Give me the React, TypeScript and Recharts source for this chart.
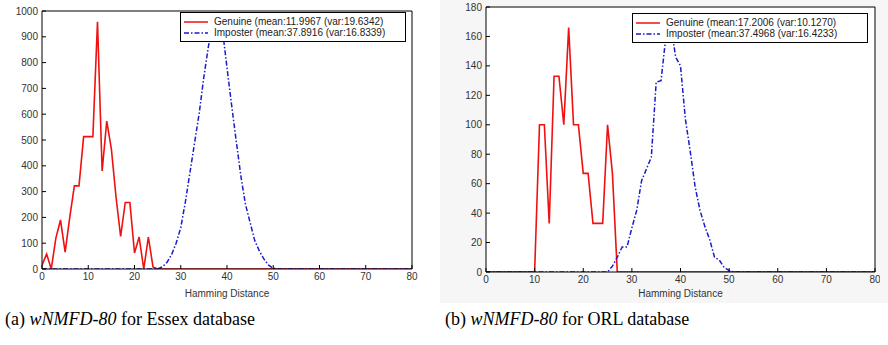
import { CartesianGrid, Legend, Line, LineChart, XAxis, YAxis } from "recharts";

// Hamming distance histograms
const essexGenuineX = [0, 1, 2, 3, 4, 5, 6, 7, 8, 9, 10, 11, 12, 13, 14, 15, 16, 17, 18, 19, 20, 21, 22, 23, 24, 25, 80];
const essexGenuineY = [15, 58, 0, 120, 190, 65, 200, 322, 322, 513, 513, 513, 958, 380, 573, 465, 280, 126, 258, 258, 62, 124, 0, 124, 8, 0, 0];

const essexImposterX = [0, 25, 26, 27, 28, 29, 30, 31, 32, 33, 34, 35, 36, 37, 38, 39, 40, 41, 42, 43, 44, 45, 46, 47, 48, 49, 50, 51, 80];
const essexImposterY = [0, 0, 8, 25, 55, 100, 160, 260, 375, 490, 605, 745, 865, 950, 990, 930, 780, 635, 495, 360, 250, 180, 110, 70, 38, 15, 3, 0, 0];

const orlGenuineX = [0, 10, 11, 12, 13, 14, 15, 16, 17, 18, 19, 20, 21, 22, 23, 24, 25, 26, 27, 80];
const orlGenuineY = [0, 0, 100, 100, 33, 133, 133, 100, 166, 100, 100, 67, 67, 33, 33, 33, 100, 67, 0, 0];

const orlImposterX = [0, 25, 26, 27, 28, 29, 30, 31, 32, 33, 34, 35, 36, 37, 38, 39, 40, 41, 42, 43, 44, 45, 46, 47, 48, 49, 50, 51, 80];
const orlImposterY = [0, 0, 4, 10, 17, 17, 30, 42, 62, 70, 78, 129, 130, 160, 168, 146, 140, 104, 82, 58, 42, 31, 22, 10, 8, 3, 1, 0, 0];

const xTicks = [0, 10, 20, 30, 40, 50, 60, 70, 80];
const essexYTicks = [0, 100, 200, 300, 400, 500, 600, 700, 800, 900, 1000];
const orlYTicks = [0, 20, 40, 60, 80, 100, 120, 140, 160, 180];

const essexLabels = ["Genuine (mean:11.9967 (var:19.6342)", "Imposter (mean:37.8916 (var:16.8339)"];
const orlLabels = ["Genuine (mean:17.2006 (var:10.1270)", "Imposter (mean:37.4968 (var:16.4233)"];

const RED = "#f01010";
const BLUE = "#1a1acc";
const DASH_DOT = "5 2 1.5 2";
const FONT = "Liberation Sans, Arial, sans-serif";
const TICK = { fontSize: 10, fill: "#333", fontFamily: FONT };

const toPoints = (xs: number[], ys: number[]) => xs.map((d, i) => ({ d, n: ys[i] }));

interface LegendBox {
  left: number;
  top: number;
  width: number;
}

function BoxLegend({ payload }: { payload?: Array<{ value: string; color: string; payload?: { strokeDasharray?: string } }> }) {
  if (!payload) return null;
  return (
    <div
      style={{
        border: "1px solid #000",
        background: "#fff",
        padding: "3px 4px 3px 3px",
        fontFamily: FONT,
        fontSize: 10,
        color: "#222",
        lineHeight: "11px",
      }}
    >
      {payload.map((p) => (
        <div key={p.value} style={{ display: "flex", alignItems: "center", whiteSpace: "nowrap" }}>
          <svg width={24} height={10} style={{ marginRight: 6 }}>
            <line
              x1={0}
              x2={24}
              y1={5}
              y2={5}
              stroke={p.color}
              strokeWidth={1.5}
              strokeDasharray={p.payload?.strokeDasharray}
            />
          </svg>
          {p.value}
        </div>
      ))}
    </div>
  );
}

function HistPanel({
  width,
  height,
  margin,
  yWidth,
  xHeight,
  yMax,
  yTicks,
  genuine,
  imposter,
  labels,
  legend,
}: {
  width: number;
  height: number;
  margin: { top: number; right: number; left: number; bottom: number };
  yWidth: number;
  xHeight: number;
  yMax: number;
  yTicks: number[];
  genuine: { d: number; n: number }[];
  imposter: { d: number; n: number }[];
  labels: string[];
  legend: LegendBox;
}) {
  return (
    <LineChart width={width} height={height} margin={margin}>
      <CartesianGrid horizontal={false} vertical={false} fill="#fff" xAxisId="bottom" yAxisId="left" />
      <XAxis
        xAxisId="bottom"
        dataKey="d"
        type="number"
        domain={[0, 80]}
        allowDataOverflow
        ticks={xTicks}
        tickSize={-4}
        tickMargin={8}
        tick={TICK}
        stroke="#000"
        height={xHeight}
        label={{
          value: "Hamming Distance",
          position: "insideBottom",
          offset: 3,
          style: { fontSize: 10, fill: "#333", fontFamily: FONT },
        }}
      />
      <XAxis
        xAxisId="top"
        orientation="top"
        dataKey="d"
        type="number"
        domain={[0, 80]}
        allowDataOverflow
        ticks={xTicks}
        tickSize={-4}
        tick={false}
        stroke="#000"
        height={1}
      />
      <YAxis
        yAxisId="left"
        type="number"
        domain={[0, yMax]}
        allowDataOverflow
        ticks={yTicks}
        tickSize={-4}
        tickMargin={8}
        tick={TICK}
        stroke="#000"
        width={yWidth}
      />
      <YAxis
        yAxisId="right"
        orientation="right"
        type="number"
        domain={[0, yMax]}
        allowDataOverflow
        ticks={yTicks}
        tickSize={-4}
        tick={false}
        stroke="#000"
        width={1}
      />
      <Legend
        layout="vertical"
        align="center"
        verticalAlign="middle"
        wrapperStyle={{ left: legend.left, top: legend.top, width: legend.width, right: "auto", bottom: "auto" }}
        content={<BoxLegend />}
      />
      <Line
        xAxisId="top"
        yAxisId="right"
        data={genuine}
        dataKey="n"
        name={labels[0]}
        type="linear"
        stroke={RED}
        strokeWidth={1.6}
        dot={false}
        isAnimationActive={false}
      />
      <Line
        xAxisId="bottom"
        yAxisId="left"
        data={imposter}
        dataKey="n"
        name={labels[1]}
        type="linear"
        stroke={BLUE}
        strokeWidth={1.5}
        strokeDasharray={DASH_DOT}
        dot={false}
        isAnimationActive={false}
      />
    </LineChart>
  );
}

export default function App() {
  const captionStyle = {
    position: "absolute" as const,
    top: 309,
    fontFamily: "Liberation Serif, Times New Roman, serif",
    fontSize: 18,
    color: "#000",
    whiteSpace: "nowrap" as const,
  };
  return (
    <div style={{ position: "absolute", left: 0, top: 0, width: 888, height: 345, background: "#fff", overflow: "hidden" }}>
      <div style={{ position: "absolute", left: 440, top: 0, width: 448, height: 303, background: "#f6f6f6" }} />
      <div style={{ position: "absolute", left: 0, top: 0 }}>
        <HistPanel
          width={430}
          height={300}
          margin={{ top: 10, right: 17, left: 0, bottom: 0 }}
          yWidth={42}
          xHeight={31}
          yMax={1000}
          yTicks={essexYTicks}
          genuine={toPoints(essexGenuineX, essexGenuineY)}
          imposter={toPoints(essexImposterX, essexImposterY)}
          labels={essexLabels}
          legend={{ left: 180, top: 12, width: 226 }}
        />
      </div>
      <div style={{ position: "absolute", left: 440, top: 0 }}>
        <HistPanel
          width={440}
          height={300}
          margin={{ top: 6, right: 4, left: 0, bottom: 0 }}
          yWidth={46}
          xHeight={28}
          yMax={180}
          yTicks={orlYTicks}
          genuine={toPoints(orlGenuineX, orlGenuineY)}
          imposter={toPoints(orlImposterX, orlImposterY)}
          labels={orlLabels}
          legend={{ left: 192, top: 13, width: 236 }}
        />
      </div>
      <div style={{ ...captionStyle, left: 5 }}>
        (a) <i>wNMFD-80</i> for Essex database
      </div>
      <div style={{ ...captionStyle, left: 445 }}>
        (b) <i>wNMFD-80</i> for ORL database
      </div>
    </div>
  );
}
